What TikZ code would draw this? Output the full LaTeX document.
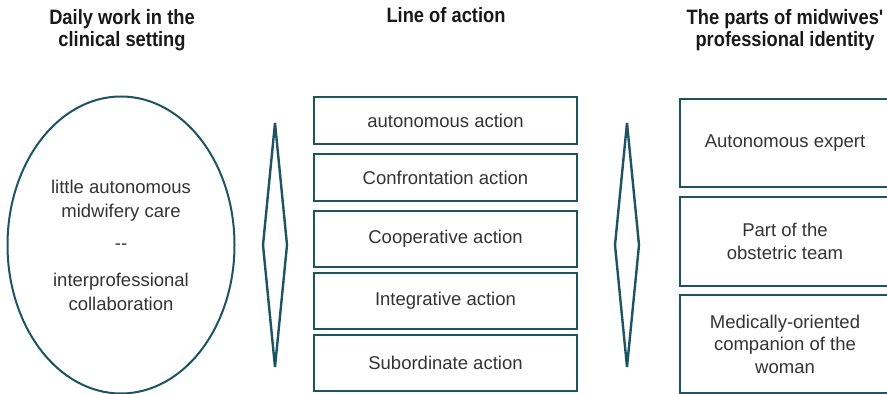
\documentclass[tikz,border=0pt]{standalone}
\usepackage{fontspec}
\setmainfont{Liberation Sans}
\newfontfamily\headfont[FakeStretch=0.88]{Liberation Sans}
\usetikzlibrary{shapes.geometric, positioning}
\definecolor{petrol}{RGB}{28,84,99}
\definecolor{inkgray}{RGB}{51,51,51}

\tikzset{
  heading/.style={align=center, text=black!90, font=\headfont\bfseries\fontsize{10.4}{11}\selectfont},
  actionbox/.style={rectangle, draw=petrol, line width=1.1pt, minimum width=131.5pt, inner sep=0pt, align=center, text=inkgray, font=\fontsize{9.25}{11.3}\selectfont},
  partbox/.style={actionbox, minimum width=105pt},
  linkdiamond/.style={diamond, draw=petrol, line width=1.2pt, minimum width=12.5pt, minimum height=122.5pt, inner sep=0pt}
}

\begin{document}
\begin{tikzpicture}[x=0.5pt, y=-0.5pt]
\useasboundingbox (0,0) rectangle (887,394);

% Column headings
\node[heading] (hwork) at (122,30) {Daily work in the\\clinical setting};
\node[heading] (hline) at (446,15) {Line of action};
\node[heading] (hparts) at (785,30) {The parts of midwives'\\professional identity};

% Clinical setting
\node[ellipse, draw=petrol, line width=1pt, minimum width=113.5pt, minimum height=148.5pt, inner sep=0pt, align=center, text=inkgray, font=\fontsize{9.25}{12}\selectfont] (setting) at (121,245) {
    little autonomous\\midwifery care\\[4pt]
    -\kern0pt-\\[6.5pt]
    interprofessional\\collaboration
};

% Diamonds between the columns
\node[linkdiamond] (dleft) at (275,245) {};
\node[linkdiamond] (dright) at (627,245) {};

% Line of action
\node[actionbox, minimum height=23.5pt] (autonomous) at (445.5,120.5) {autonomous action};
\node[actionbox, minimum height=23.5pt] (confront) at (445.5,177.5) {Confrontation action};
\node[actionbox, minimum height=28pt] (coop) at (445.5,239) {Cooperative action};
\node[actionbox, minimum height=28pt] (integr) at (445.5,301) {Integrative action};
\node[actionbox, minimum height=28pt] (subord) at (445.5,363) {Subordinate action};

% Parts of the professional identity
\node[partbox, minimum height=44pt] (expert) at (785,143) {Autonomous expert};
\node[partbox, minimum height=44.5pt] (team) at (785,241.5) {Part of the\\obstetric team};
\node[partbox, minimum height=49pt] (companion) at (785,344) {Medically-oriented\\companion of the\\woman};
\end{tikzpicture}
\end{document}
